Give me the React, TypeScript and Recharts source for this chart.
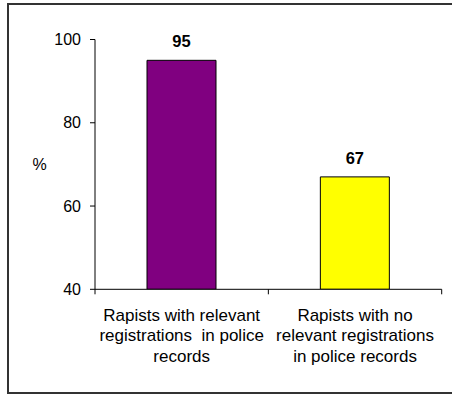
import React from "react";
import { BarChart, Bar, XAxis, YAxis, Cell, LabelList, Label } from "recharts";

// Category labels, one entry per line of each axis label
const categoryLabels: string[][] = [
  ["Rapists with relevant", "registrations  in police", "records"],
  ["Rapists with no", "relevant registrations", "in police records"],
];
const values: number[] = [95, 67];
const barColors: string[] = ["#800080", "#FFFF00"];
const yTicks: number[] = [40, 60, 80, 100];
const yDomain: [number, number] = [40, 100];

const data = categoryLabels.map((lines, i) => ({
  name: lines.join(" "),
  value: values[i],
}));

const FONT = "'Liberation Sans', Arial, sans-serif";
const CHART_W = 452;
const CHART_H = 394;
const MARGIN = { top: 39.5, right: 10.3, left: 0, bottom: 0 };
const Y_AXIS_W = 95;
const X_AXIS_H = 104.7;
const TICK = 5;

const plotWidth = CHART_W - MARGIN.left - MARGIN.right - Y_AXIS_W;
const halfBand = plotWidth / data.length / 2;

// Category tick: multi-line centred label, tick marks on category boundaries
function CategoryTick(props: any) {
  const { x, y, payload, index } = props;
  const i = payload && typeof payload.index === "number" ? payload.index : index;
  const lines = categoryLabels[i] || [];
  const axisY = y - TICK;
  return (
    <g>
      <line x1={x - halfBand} y1={axisY} x2={x - halfBand} y2={axisY + TICK} stroke="#000" />
      {i === data.length - 1 && (
        <line x1={x + halfBand} y1={axisY} x2={x + halfBand} y2={axisY + TICK} stroke="#000" />
      )}
      {lines.map((ln, k) => (
        <text
          key={k}
          x={x}
          y={axisY + 31.5 + k * 20.6}
          textAnchor="middle"
          fontSize={17}
          fontFamily={FONT}
          fill="#000"
          style={{ whiteSpace: "pre" }}
        >
          {ln}
        </text>
      ))}
    </g>
  );
}

export default function App() {
  return (
    <div
      style={{
        position: "absolute",
        left: 0,
        top: 0,
        width: CHART_W,
        height: CHART_H,
        overflow: "hidden",
        background: "#fff",
      }}
    >
      <div
        style={{
          position: "absolute",
          left: 7,
          top: 3,
          width: 460,
          height: 387,
          borderTop: "2px solid #333",
          borderLeft: "2px solid #333",
          borderBottom: "2px solid #333",
        }}
      />
      <div style={{ position: "absolute", left: 0, top: 0 }}>
        <BarChart
          width={CHART_W}
          height={CHART_H}
          data={data}
          margin={MARGIN}
          barCategoryGap="30%"
          style={{ fontFamily: FONT }}
        >
          <XAxis
            dataKey="name"
            height={X_AXIS_H}
            interval={0}
            tickLine={false}
            tickSize={TICK}
            tickMargin={0}
            axisLine={{ stroke: "#000" }}
            tick={<CategoryTick />}
          />
          <YAxis
            width={Y_AXIS_W}
            domain={yDomain}
            ticks={yTicks}
            interval={0}
            allowDataOverflow
            tickSize={TICK}
            tickMargin={9}
            axisLine={{ stroke: "#000" }}
            tickLine={{ stroke: "#000" }}
            tick={{ fill: "#000", fontSize: 16, fontFamily: FONT }}
          >
            <Label
              value="%"
              position="insideLeft"
              offset={32.5}
              fill="#000"
              fontSize={16}
              fontFamily={FONT}
            />
          </YAxis>
          <Bar dataKey="value" stroke="#000" strokeWidth={1} isAnimationActive={false}>
            {data.map((_, i) => (
              <Cell key={i} fill={barColors[i]} />
            ))}
            <LabelList
              dataKey="value"
              position="top"
              offset={13}
              fill="#000"
              fontSize={16.5}
              fontWeight="bold"
              fontFamily={FONT}
            />
          </Bar>
        </BarChart>
      </div>
    </div>
  );
}
